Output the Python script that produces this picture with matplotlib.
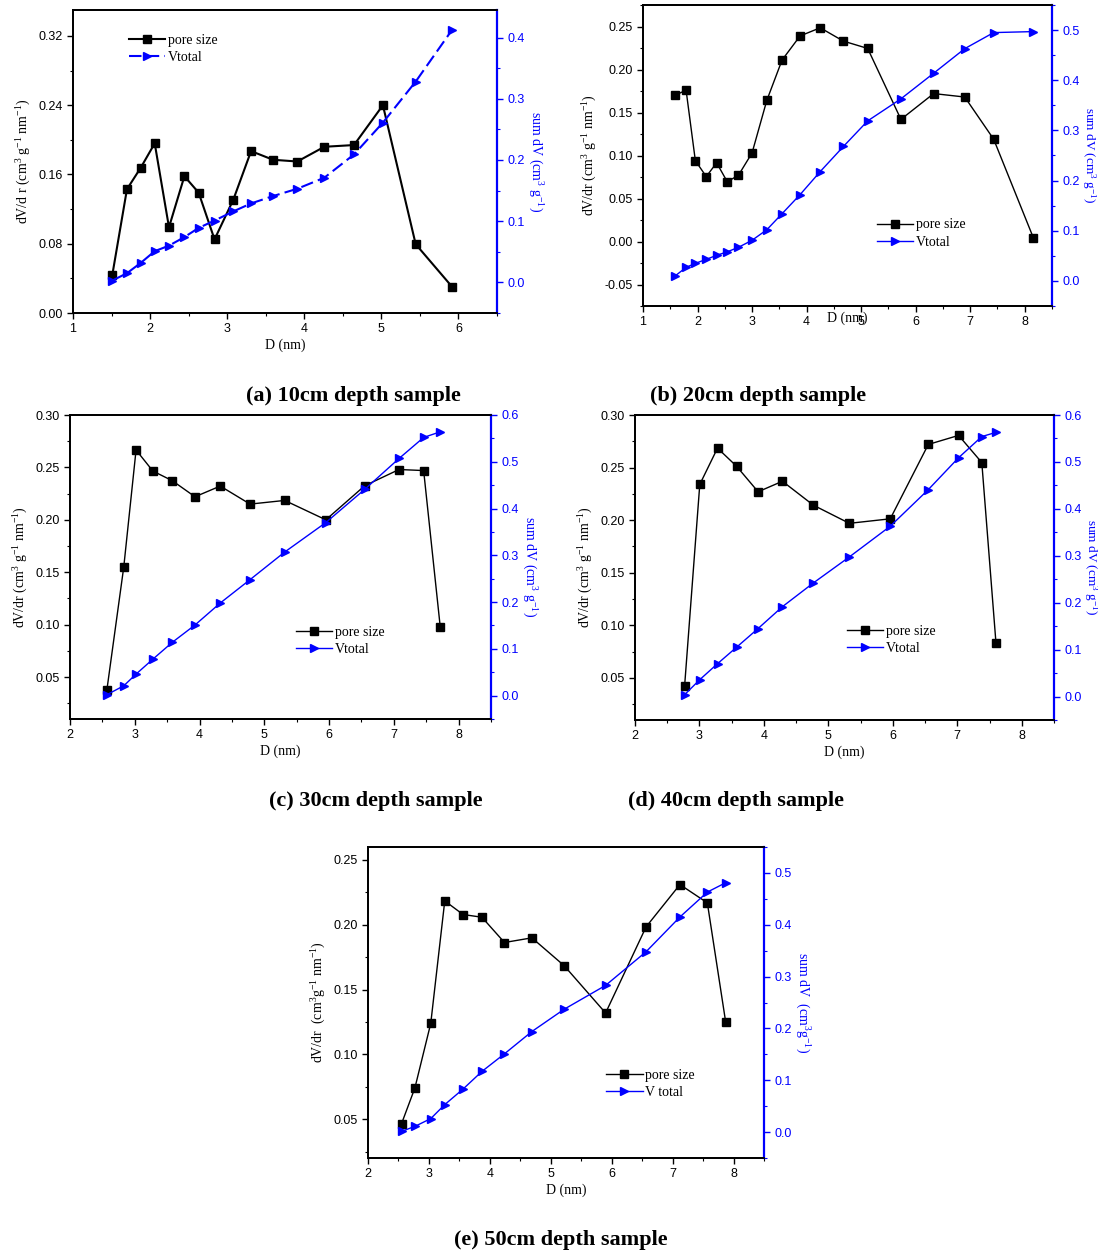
import matplotlib
matplotlib.use("Agg")
import matplotlib.pyplot as plt
from matplotlib.ticker import MultipleLocator, FormatStrFormatter
from matplotlib.lines import Line2D

plt.rcParams['font.family'] = ['Liberation Sans', 'DejaVu Sans']
plt.rcParams['mathtext.fontset'] = 'custom'
plt.rcParams['mathtext.rm'] = 'Liberation Serif'
plt.rcParams['mathtext.it'] = 'Liberation Serif:italic'
plt.rcParams['mathtext.default'] = 'rm'

# ---------------- data ----------------
# (a) 10 cm
D_a = [1.51, 1.70, 1.88, 2.06, 2.245, 2.445, 2.63, 2.836, 3.08, 3.31, 3.595, 3.91, 4.26, 4.645, 5.02, 5.445, 5.92]
pore_a = [0.044, 0.143, 0.168, 0.196, 0.099, 0.158, 0.139, 0.085, 0.131, 0.187, 0.177, 0.175, 0.192, 0.194, 0.240, 0.0795, 0.030]
vtot_a = [0.003, 0.015, 0.032, 0.051, 0.060, 0.074, 0.089, 0.101, 0.116, 0.129, 0.141, 0.153, 0.171, 0.209, 0.261, 0.328, 0.413]

# (b) 20 cm
D_b = [1.59, 1.79, 1.96, 2.16, 2.35, 2.545, 2.75, 3.0, 3.27, 3.55, 3.88, 4.25, 4.675, 5.12, 5.73, 6.33, 6.90, 7.43, 8.16]
pore_b = [0.170, 0.176, 0.094, 0.0755, 0.0915, 0.0695, 0.077, 0.103, 0.164, 0.211, 0.239, 0.2485, 0.233, 0.2245, 0.142, 0.172, 0.168, 0.119, 0.004]
vtot_b = [0.010, 0.027, 0.035, 0.043, 0.051, 0.058, 0.067, 0.081, 0.102, 0.134, 0.172, 0.218, 0.268, 0.319, 0.363, 0.414, 0.463, 0.495, 0.497]

# (c) 30 cm
D_c = [2.57, 2.83, 3.02, 3.28, 3.58, 3.93, 4.32, 4.78, 5.315, 5.95, 6.55, 7.08, 7.46, 7.716]
pore_c = [0.038, 0.155, 0.2666, 0.2465, 0.2373, 0.222, 0.2322, 0.215, 0.2185, 0.200, 0.2325, 0.248, 0.247, 0.098]
vtot_c = [0.002, 0.021, 0.046, 0.078, 0.114, 0.151, 0.198, 0.248, 0.307, 0.370, 0.441, 0.507, 0.552, 0.564]

# (d) 40 cm
D_d = [2.77, 3.005, 3.28, 3.575, 3.91, 4.287, 4.766, 5.325, 5.96, 6.55, 7.02, 7.38, 7.6]
pore_d = [0.0427, 0.234, 0.2685, 0.2513, 0.227, 0.237, 0.2143, 0.197, 0.2013, 0.272, 0.2806, 0.2548, 0.0831]
vtot_d = [0.004, 0.036, 0.070, 0.105, 0.145, 0.1915, 0.242, 0.2975, 0.363, 0.441, 0.509, 0.554, 0.563]

# (e) 50 cm
D_e = [2.55, 2.77, 3.03, 3.26, 3.56, 3.87, 4.24, 4.69, 5.22, 5.90, 6.565, 7.12, 7.57, 7.87]
pore_e = [0.0464, 0.0741, 0.1239, 0.2184, 0.2079, 0.2058, 0.1863, 0.1899, 0.1684, 0.1319, 0.1984, 0.231, 0.2169, 0.1252]
vtot_e = [0.0013, 0.011, 0.026, 0.053, 0.083, 0.117, 0.151, 0.194, 0.237, 0.283, 0.348, 0.415, 0.463, 0.481]

captions = ["(a) 10cm depth sample", "(b) 20cm depth sample", "(c) 30cm depth sample",
            "(d) 40cm depth sample", "(e) 50cm depth sample"]
pore_label = "pore size"
vtot_labels = ["Vtotal", "Vtotal", "Vtotal", "Vtotal", "V total"]

W, H = 1098, 1255
fig = plt.figure(figsize=(W / 100, H / 100), dpi=100)

SERIF = ['Liberation Serif', 'DejaVu Serif']
MS_SQ = 5.5
MS_TRI = 6.2


def make_panel(box, D, pore, vtot, xlim, ylim, y2lim, xmaj, ymaj, y2maj, yfmt,
               ylabel, y2label, leg_xy, vlabel, lw_pore=1.0, lw_v=1.0, vdash=False,
               xlabelpad=2, y2pad=14, y2size=10):
    l, r, t, b = box
    ax = fig.add_axes([l / W, 1 - b / H, (r - l) / W, (b - t) / H])
    ax2 = ax.twinx()
    ax.plot(D, pore, color='black', marker='s', ms=MS_SQ, lw=lw_pore, zorder=3)
    ls = (0, (6, 2.5)) if vdash else '-'
    ax2.plot(D, vtot, color='blue', marker='>', ms=MS_TRI, lw=lw_v, ls=ls)
    ax.set_xlim(*xlim)
    ax.set_ylim(*ylim)
    ax2.set_ylim(*y2lim)
    ax.xaxis.set_major_locator(MultipleLocator(xmaj))
    ax.xaxis.set_minor_locator(MultipleLocator(xmaj / 2))
    ax.yaxis.set_major_locator(MultipleLocator(ymaj))
    ax.yaxis.set_minor_locator(MultipleLocator(ymaj / 2))
    ax.yaxis.set_major_formatter(FormatStrFormatter(yfmt))
    ax2.yaxis.set_major_locator(MultipleLocator(y2maj))
    ax2.yaxis.set_minor_locator(MultipleLocator(y2maj / 2))
    ax2.yaxis.set_major_formatter(FormatStrFormatter('%.1f'))
    for a in (ax, ax2):
        a.tick_params(which='major', direction='out', length=4, width=1.0, labelsize=9)
        a.tick_params(which='minor', direction='out', length=2.5, width=0.8)
    ax2.tick_params(axis='y', which='both', colors='blue')
    ax2.spines['right'].set_color('blue')
    ax2.spines['right'].set_linewidth(1.6)
    ax.spines['right'].set_visible(False)
    for s in ('left', 'bottom', 'top'):
        ax.spines[s].set_linewidth(1.3)
        ax2.spines[s].set_linewidth(1.3)
    ax.set_xlabel("D (nm)", fontfamily=SERIF, fontsize=10, labelpad=xlabelpad)
    ax.set_ylabel(ylabel, fontfamily=SERIF, fontsize=10, labelpad=4)
    ax2.set_ylabel(y2label, fontfamily=SERIF, fontsize=y2size, color='blue',
                   rotation=270, labelpad=y2pad)
    handles = [Line2D([], [], color='black', marker='s', ms=MS_SQ, lw=lw_pore),
               Line2D([], [], color='blue', marker='>', ms=MS_TRI, lw=lw_v, ls=ls)]
    ax2.legend(handles, [pore_label, vlabel], loc='upper left', bbox_to_anchor=leg_xy,
               frameon=False, prop={'family': SERIF, 'size': 10}, handlelength=2.6,
               handletextpad=0.2, labelspacing=0.3, borderaxespad=0, borderpad=0.2)
    return ax


ylab_std = r"dV/dr (cm$^{3}$ g$^{-1}$ nm$^{-1}$)"
y2lab_std = r"sum dV (cm$^{3}$ g$^{-1}$)"

make_panel((73, 497, 10, 313), D_a, pore_a, vtot_a, (1, 6.5), (0, 0.35), (-0.05, 0.445),
           1, 0.08, 0.1, '%.2f', r"dV/d r (cm$^{3}$ g$^{-1}$ nm$^{-1}$)", y2lab_std,
           (0.125, 0.93), vtot_labels[0], lw_pore=1.5, lw_v=1.5, vdash=True)
make_panel((643, 1052, 5, 306), D_b, pore_b, vtot_b, (1, 8.5), (-0.075, 0.275), (-0.05, 0.55),
           1, 0.05, 0.1, '%.2f', ylab_std, y2lab_std,
           (0.565, 0.30), vtot_labels[1], xlabelpad=-12, y2pad=13, y2size=9.5)
make_panel((70, 491, 415, 719), D_c, pore_c, vtot_c, (2, 8.5), (0.01, 0.30), (-0.05, 0.6),
           1, 0.05, 0.1, '%.2f', ylab_std, y2lab_std,
           (0.53, 0.315), vtot_labels[2])
make_panel((635, 1054, 415, 720), D_d, pore_d, vtot_d, (2, 8.5), (0.01, 0.30), (-0.05, 0.6),
           1, 0.05, 0.1, '%.2f', ylab_std, y2lab_std,
           (0.50, 0.32), vtot_labels[3], y2pad=13, y2size=9.5)
make_panel((368, 764, 847, 1158), D_e, pore_e, vtot_e, (2, 8.5), (0.02, 0.26), (-0.05, 0.55),
           1, 0.05, 0.1, '%.2f', r"dV/dr  (cm$^{3}$g$^{-1}$ nm$^{-1}$)", r"sum dV  (cm$^{3}$g$^{-1}$)",
           (0.595, 0.295), vtot_labels[4])

cap_pos = [(353, 396), (758, 396), (376, 801), (736, 801), (561, 1240)]
for (cx, cy), txt in zip(cap_pos, captions):
    fig.text(cx / W, 1 - cy / H, txt, ha='center', va='center', fontfamily=SERIF,
             fontweight='bold', fontsize=16)

fig.savefig("out.png", dpi=100)
